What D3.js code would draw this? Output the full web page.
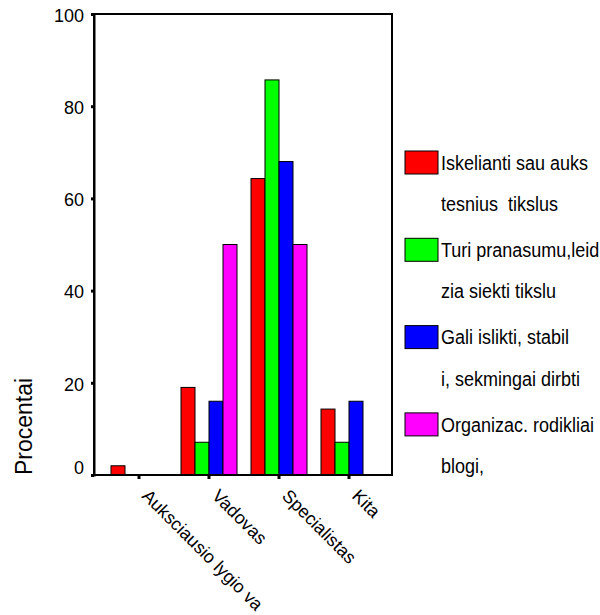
<!DOCTYPE html>
<html>
<head>
<meta charset="utf-8">
<script src="https://cdn.jsdelivr.net/npm/d3@7"></script>
<style>
  html, body { margin: 0; padding: 0; background: #fff; }
  svg { display: block; font-family: "Liberation Sans", Arial, sans-serif; }
</style>
</head>
<body>
<svg id="chart" width="600" height="615"></svg>
<script>
// ---- data ----
const categories = ["Auksciausio lygio va", "Vadovas", "Specialistas", "Kita"];
const legendLines = [
  ["Iskelianti sau auks", "tesnius  tikslus"],
  ["Turi pranasumu,leid", "zia siekti tikslu"],
  ["Gali islikti, stabil", "i, sekmingai dirbti"],
  ["Organizac. rodikliai", "blogi,"]
];
const seriesRed = [2.0, 19.0, 64.3, 14.3];
const seriesGreen = [0, 7.1, 85.7, 7.1];
const seriesBlue = [0, 16.0, 68.0, 16.0];
const seriesMagenta = [0, 50.0, 50.0, 0];
const yTicks = [0, 20, 40, 60, 80, 100];
const yLabel = "Procentai";
const colors = ["#ff0000", "#00ff00", "#0000ff", "#ff00ff"];

const seriesValues = [seriesRed, seriesGreen, seriesBlue, seriesMagenta];

// ---- layout ----
const plotL = 94, plotR = 392, plotT = 14, plotB = 475;
const svg = d3.select("#chart");

const x = d3.scaleBand().domain(categories).range([104, 384]).paddingInner(0.2).paddingOuter(0.1);
const xs = d3.scaleBand().domain(d3.range(seriesValues.length)).range([0, x.bandwidth()]);
const y = d3.scaleLinear().domain([0, 100]).range([plotB, plotT]);

// bars
const rows = [];
categories.forEach((c, ci) => {
  seriesValues.forEach((s, si) => {
    if (s[ci] > 0) rows.push({ c, si, v: s[ci] });
  });
});
svg.append("g").selectAll("rect").data(rows).join("rect")
  .attr("x", d => x(d.c) + xs(d.si))
  .attr("y", d => y(d.v))
  .attr("width", xs.bandwidth())
  .attr("height", d => y(0) - y(d.v))
  .attr("fill", d => colors[d.si])
  .attr("stroke", "#000")
  .attr("stroke-width", 1);

// frame
svg.append("rect")
  .attr("x", plotL).attr("y", plotT)
  .attr("width", plotR - plotL).attr("height", plotB - plotT)
  .attr("fill", "none").attr("stroke", "#000").attr("stroke-width", 2);

// y axis
const yAxis = svg.append("g").attr("transform", `translate(${plotL},0)`)
  .call(d3.axisLeft(y).tickValues(yTicks).tickSize(3).tickPadding(7).tickFormat(d3.format("d")));
yAxis.select(".domain").attr("stroke", "#000").attr("stroke-width", 2);
yAxis.selectAll(".tick line").attr("stroke", "#000").attr("stroke-width", 3);
yAxis.selectAll(".tick text")
  .attr("font-size", 18).attr("fill", "#000")
  .attr("font-family", "Liberation Sans, Arial, sans-serif")
  .attr("dy", d => d === 0 ? "-0.1em" : "0.4em");

// x axis
const xAxis = svg.append("g").attr("transform", `translate(0,${plotB})`)
  .call(d3.axisBottom(x).tickSize(4).tickFormat(""));
xAxis.select(".domain").remove();
xAxis.selectAll(".tick line").attr("stroke", "#000").attr("stroke-width", 3);
svg.append("g").selectAll("text").data(categories).join("text")
  .attr("transform", d => `translate(${x(d) + x.bandwidth() / 2 + 2},497) rotate(45)`)
  .attr("font-size", 18).attr("fill", "#000")
  .text(d => d);

// y label
svg.append("text")
  .attr("transform", "translate(32,475) rotate(-90)")
  .attr("font-size", 23).attr("fill", "#000")
  .text(yLabel);

// legend
const lg = svg.append("g").selectAll("g").data(legendLines).join("g")
  .attr("transform", (d, i) => `translate(405,${162.5 + i * 87.3})`);
lg.append("rect")
  .attr("x", 0).attr("y", -11.5).attr("width", 33).attr("height", 23)
  .attr("fill", (d, i) => colors[i]).attr("stroke", "#000").attr("stroke-width", 1);
lg.append("text").attr("transform", "translate(36,0) scale(1,1.1)").attr("dy", "0.36em")
  .attr("font-size", 18).attr("fill", "#000").style("white-space", "pre")
  .text(d => d[0]);
lg.append("text").attr("transform", "translate(36,41.5) scale(1,1.1)").attr("dy", "0.36em")
  .attr("font-size", 18).attr("fill", "#000").style("white-space", "pre")
  .text(d => d[1]);
</script>
</body>
</html>
